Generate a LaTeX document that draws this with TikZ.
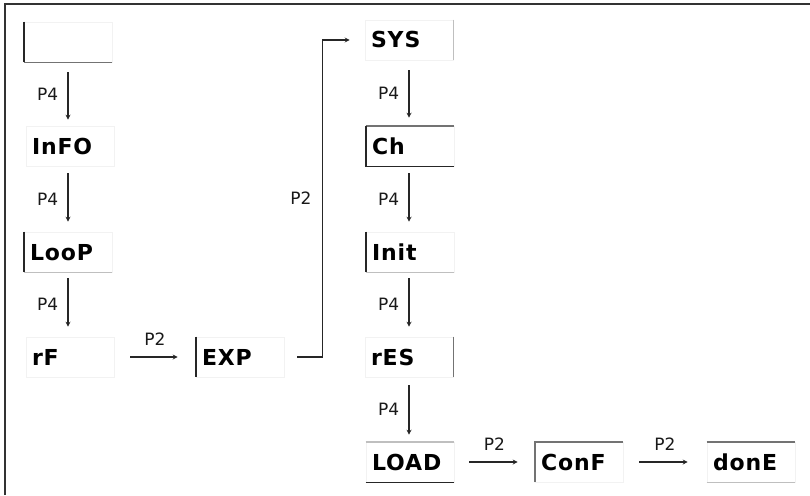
\documentclass[tikz,border=0pt]{standalone}
\usepackage{fontspec}
\setmainfont{DejaVu Sans}
\usetikzlibrary{arrows.meta}
\tikzset{
  box/.style={rectangle, draw=black!5, line width=0.6pt, minimum width=88pt, minimum height=40pt,
    text width=76pt, align=left, inner xsep=6pt, inner ysep=0pt, text height=16pt, text depth=0pt,
    font=\bfseries\fontsize{22}{25}\selectfont\addfontfeature{LetterSpace=4}, text=black},
  lab/.style={font=\fontsize{17}{20}\selectfont, text=black!90, inner sep=1pt},
  arr/.style={-{Stealth[length=5pt,width=5pt]}, line width=1.4pt, draw=black!85},
  dk/.style={line width=1.6pt, draw=black!85},
  md/.style={line width=1.6pt, draw=black!55},
  lt/.style={line width=1.6pt, draw=black!25},
  frame/.style={line width=1.4pt, draw=black!80}
}
\begin{document}
\begin{tikzpicture}[x=1pt,y=-1pt]
\useasboundingbox (0,0) rectangle (810,495);
\draw[frame] (5,495) -- (5,4) -- (810,4);
% column 1
\node[box] (b0)   at (68,42)  {};
\node[box] (info) at (70,146) {InFO};
\node[box] (loop) at (68,252) {LooP};
\node[box] (rf)   at (70,357) {rF};
\node[box] (exp)  at (240,357) {EXP};
% column 2
\node[box] (sys)  at (409,40)  {SYS};
\node[box] (ch)   at (410,146) {Ch};
\node[box] (init) at (410,252) {Init};
\node[box] (res)  at (409,357) {rES};
\node[box] (load) at (410,462) {LOAD};
\node[box] (conf) at (579,462) {ConF};
\node[box] (done) at (751,462) {donE};
% partial borders
\draw[dk] (b0.north west) -- (b0.south west);
\draw[md] (b0.south west) -- (b0.south east);
\draw[dk] (loop.north west) -- (loop.south west);
\draw[lt] (loop.south west) -- (loop.south east);
\draw[dk] (exp.north west) -- (exp.south west);
\draw[lt] (sys.north east) -- (sys.south east);
\draw[md] (ch.north west) -- (ch.north east);
\draw[dk] (ch.north west) -- (ch.south west) -- (ch.south east);
\draw[dk] (init.north west) -- (init.south west);
\draw[lt] (init.south west) -- (init.south east);
\draw[md] (res.north east) -- (res.south east);
\draw[lt] (load.north west) -- (load.north east);
\draw[dk] (load.south west) -- (load.south east);
\draw[md] (conf.south west) -- (conf.north west) -- (conf.north east);
\draw[md] (done.north west) -- (done.north east);
\draw[lt] (done.south west) -- (done.south east);
% vertical arrows
\draw[arr, shorten <=10pt, shorten >=6pt] (b0) -- node[lab, left=8pt] {P4} (b0 |- info.north);
\draw[arr, shorten <=7pt, shorten >=10pt] (b0 |- info.south) -- node[lab, left=8pt] {P4} (loop.north);
\draw[arr, shorten <=6pt, shorten >=10pt] (loop.south) -- node[lab, left=8pt] {P4} (loop |- rf.north);
\draw[arr, shorten <=10pt, shorten >=8pt] (sys.south) -- node[lab, left=8pt] {P4} (sys |- ch.north);
\draw[arr, shorten <=7pt, shorten >=10pt] (sys |- ch.south) -- node[lab, left=8pt] {P4} (sys |- init.north);
\draw[arr, shorten <=6pt, shorten >=10pt] (sys |- init.south) -- node[lab, left=8pt] {P4} (sys |- res.north);
\draw[arr, shorten <=8pt, shorten >=7pt] (res.south) -- node[lab, left=8pt] {P4} (res |- load.north);
% horizontal arrows
\draw[arr, shorten <=16pt, shorten >=18pt] (rf.east) -- node[lab, above=10pt] {P2} (exp.west);
\draw[arr, shorten <=15pt, shorten >=17pt] (load.east) -- node[lab, above=10pt] {P2} (conf.west);
\draw[arr, shorten <=16pt, shorten >=19pt] (conf.east) -- node[lab, above=10pt] {P2} (done.west);
% EXP -> SYS
\draw[arr, line width=1.5pt, shorten <=13pt, shorten >=15pt] (exp.east) -- ++(38,0) |- node[lab, pos=0.25, left=9pt] {P2} (sys.west);
\end{tikzpicture}
\end{document}
